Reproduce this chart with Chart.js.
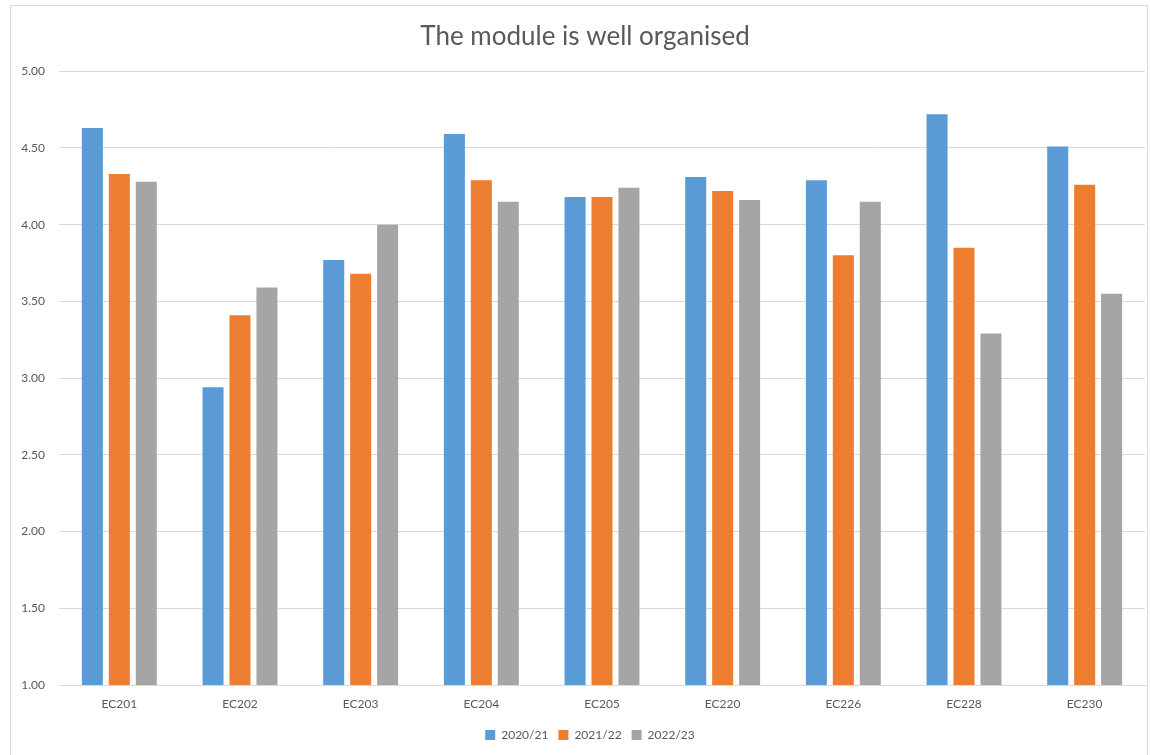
<!DOCTYPE html>
<html>
<head>
<meta charset="utf-8">
<script src="https://cdn.jsdelivr.net/npm/chart.js@4"></script>
<style>
  body { margin: 0; background: #fff; }
  #frame {
    position: absolute; left: 10px; top: 5px;
    width: 1138px; height: 760px;
    border: 1px solid #d9d9d9; box-sizing: border-box;
  }
  #wrap { position: absolute; left: 11px; top: 6px; width: 1138px; height: 749px; }
</style>
</head>
<body>
<div id="frame"></div>
<div id="wrap"><canvas id="chart"></canvas></div>
<script>
// data
const modules = ["EC201", "EC202", "EC203", "EC204", "EC205", "EC220", "EC226", "EC228", "EC230"];
const y2020 = [4.63, 2.94, 3.77, 4.59, 4.18, 4.31, 4.29, 4.72, 4.51];
const y2021 = [4.33, 3.41, 3.68, 4.29, 4.18, 4.22, 3.80, 3.85, 4.26];
const y2022 = [4.28, 3.59, 4.00, 4.15, 4.24, 4.16, 4.15, 3.29, 3.55];
const yTicks = [1.0, 1.5, 2.0, 2.5, 3.0, 3.5, 4.0, 4.5, 5.0];

const grey = "#595959";
const font = "Lato, 'Liberation Sans', sans-serif";

// nudge title and legend slightly right (excel centres them on the plot, not the canvas)
const nudge = {
  id: "nudge",
  afterLayout(chart) {
    if (chart.titleBlock) chart.titleBlock.left += 14;
    if (chart.legend) chart.legend.left += 24;
  }
};

const ctx = document.getElementById("chart").getContext("2d");
new Chart(ctx, {
  type: "bar",
  data: {
    labels: modules,
    datasets: [
      { label: "2020/21", data: y2020, backgroundColor: "#5B9BD5" },
      { label: "2021/22", data: y2021, backgroundColor: "#ED7D31" },
      { label: "2022/23", data: y2022, backgroundColor: "#A5A5A5" }
    ]
  },
  options: {
    responsive: true,
    maintainAspectRatio: false,
    animation: false,
    categoryPercentage: 0.67,
    barPercentage: 0.78,
    layout: { padding: { left: 0, right: 4, top: 0, bottom: 4 } },
    plugins: {
      title: {
        display: true,
        text: "The module is well organised",
        color: grey,
        font: { family: font, size: 26, weight: "normal" },
        padding: { top: 15, bottom: 19 }
      },
      legend: {
        position: "bottom",
        labels: {
          color: grey,
          boxWidth: 10,
          boxHeight: 10,
          padding: 10,
          font: { family: font, size: 12 }
        }
      },
      tooltip: { enabled: false }
    },
    scales: {
      x: {
        grid: { display: false, drawTicks: false },
        border: { display: true, color: "#D9D9D9" },
        ticks: { color: grey, padding: 12, font: { family: font, size: 12 } },
        afterFit: s => { s.height = 34; }
      },
      y: {
        min: 1,
        max: 5,
        afterBuildTicks: s => { s.ticks = yTicks.map(v => ({ value: v })); },
        grid: { color: "#D9D9D9", drawTicks: false },
        border: { display: false },
        ticks: {
          color: grey,
          padding: 14,
          font: { family: font, size: 12 },
          callback: v => Number(v).toFixed(2)
        },
        afterFit: s => { s.width = 48; }
      }
    }
  },
  plugins: [nudge]
});
</script>
</body>
</html>
